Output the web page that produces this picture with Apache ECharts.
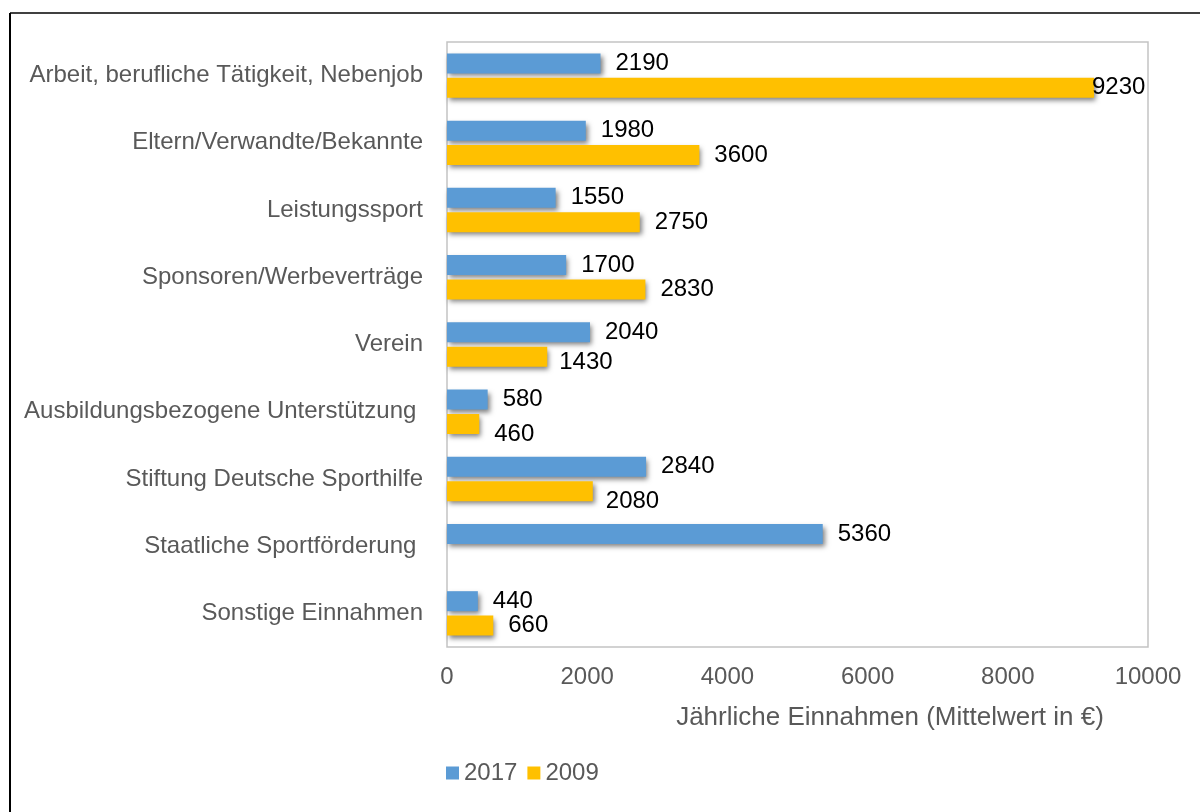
<!DOCTYPE html>
<html>
<head>
<meta charset="utf-8">
<script src="https://cdn.jsdelivr.net/npm/echarts@6/dist/echarts.min.js"></script>
<style>
html,body{margin:0;padding:0;background:#fff;}
#chart{width:1200px;height:812px;}
</style>
</head>
<body>
<div id="chart"></div>
<script>
const categories = [
  'Arbeit, berufliche Tätigkeit, Nebenjob',
  'Eltern/Verwandte/Bekannte',
  'Leistungssport',
  'Sponsoren/Werbeverträge',
  'Verein',
  'Ausbildungsbezogene Unterstützung ',
  'Stiftung Deutsche Sporthilfe',
  'Staatliche Sportförderung ',
  'Sonstige Einnahmen'
];
const values2017 = [2190, 1980, 1550, 1700, 2040, 580, 2840, 5360, 440];
const values2009 = [9230, 3600, 2750, 2830, 1430, 460, 2080, null, 660];
const xTicks = { min: 0, max: 10000, interval: 2000 };
const axisTitle = 'Jährliche Einnahmen (Mittelwert in €)';

// label position tweaks (index -> [dx, dy])
const labelTweaks2009 = { 0: [-17, 0], 4: [-3, 6], 5: [0, 10], 6: [-2, 10] };

const FONT = '"Liberation Sans", Arial, sans-serif';
const chart = echarts.init(document.getElementById('chart'));

const shadow = {
  shadowColor: 'rgba(0,0,0,0.5)',
  shadowBlur: 5,
  shadowOffsetX: 2,
  shadowOffsetY: 3
};

function mkData(vals, tweaks) {
  return vals.map((v, i) => {
    if (v === null) return null;
    const item = { value: v };
    if (tweaks && tweaks[i]) item.label = { offset: tweaks[i] };
    return item;
  });
}

const labelStyle = {
  show: true,
  position: 'right',
  distance: 15,
  color: '#000',
  fontSize: 24,
  fontFamily: FONT
};

chart.setOption({
  animation: false,
  backgroundColor: '#fff',
  grid: {
    left: 447, right: 52, top: 42, bottom: 165,
    show: true,
    borderColor: '#c3c3c3',
    borderWidth: 1.5,
    backgroundColor: 'transparent'
  },
  legend: {
    left: 441, top: 756,
    itemWidth: 13, itemHeight: 13, itemGap: 10,
    icon: 'rect',
    textStyle: { color: '#595959', fontSize: 24, fontFamily: FONT },
    data: ['2017', '2009']
  },
  xAxis: {
    type: 'value',
    min: xTicks.min, max: xTicks.max, interval: xTicks.interval,
    axisLine: { show: false },
    axisTick: { show: false },
    splitLine: { show: false },
    axisLabel: { color: '#595959', fontSize: 24, fontFamily: FONT, margin: 18, formatter: v => String(v) }
  },
  yAxis: {
    type: 'category',
    inverse: true,
    data: categories,
    axisLine: { show: false },
    axisTick: { show: false },
    axisLabel: { color: '#595959', fontSize: 24, fontFamily: FONT, margin: 24 }
  },
  graphic: [
    { type: 'line', shape: { x1: 10, y1: 13, x2: 1200, y2: 13 }, style: { stroke: '#000', lineWidth: 1.5 } },
    { type: 'line', shape: { x1: 10, y1: 13, x2: 10, y2: 812 }, style: { stroke: '#000', lineWidth: 2 } },
    { type: 'text', x: 890, y: 718, style: { text: axisTitle, fill: '#595959', fontSize: 26, fontFamily: FONT, align: 'center', verticalAlign: 'middle' } }
  ],
  series: [
    {
      name: '2017', type: 'bar',
      data: mkData(values2017, null),
      barWidth: 20, barGap: '22%',
      itemStyle: Object.assign({ color: '#5B9BD5' }, shadow),
      label: labelStyle
    },
    {
      name: '2009', type: 'bar',
      data: mkData(values2009, labelTweaks2009),
      barWidth: 20, barGap: '22%',
      itemStyle: Object.assign({ color: '#FFC000' }, shadow),
      label: labelStyle
    }
  ]
});
</script>
</body>
</html>
